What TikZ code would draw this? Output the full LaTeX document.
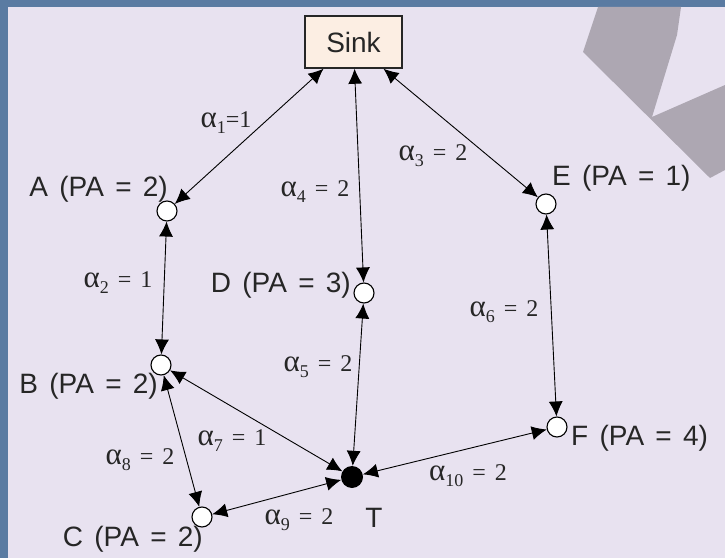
\documentclass[tikz,border=0pt]{standalone}
\usepackage{fontspec}
\setmainfont{Liberation Sans}[WordSpace=1.45]
\newfontfamily\grkfont{Liberation Serif}[WordSpace=1.5]
\usetikzlibrary{arrows.meta}
\definecolor{slidebg}{HTML}{E8E2F0}
\definecolor{slideblue}{HTML}{5A7BA2}
\definecolor{deco}{HTML}{ADA7B2}
\definecolor{sinkfill}{HTML}{FCEEE3}
\definecolor{ink}{HTML}{262626}
% alpha weight labels
\newcommand{\alp}{{\fontsize{31bp}{31bp}\selectfont α}}
\newcommand{\wlab}[2]{{\grkfont\alp\raisebox{-6bp}{\fontsize{18bp}{18bp}\selectfont #1} = #2}}
\tikzset{
  sensor/.style={circle,draw,line width=1.1bp,fill=white,minimum size=20bp,inner sep=0pt},
  target/.style={circle,fill=black,minimum size=22bp,inner sep=0pt},
  sinkbox/.style={draw=ink,line width=1.5bp,fill=sinkfill,minimum width=97bp,minimum height=52bp,
    font=\fontsize{28bp}{32bp}\selectfont,text=ink},
  pa/.style={text=ink,inner sep=0pt,font=\fontsize{28bp}{32bp}\selectfont},
  wt/.style={text=ink,inner sep=0pt,font=\fontsize{24bp}{28bp}\selectfont},
  link/.style={{Latex[length=15bp,width=14bp]}-{Latex[length=15bp,width=14bp]},line width=0.9bp}
}
\begin{document}
\begin{tikzpicture}[x=1bp,y=-1bp]
  % slide background
  \fill[slideblue] (0,0) rectangle (725,558);
  \fill[slidebg] (8,7) rectangle (725,558);
  \fill[deco] (598,7) -- (583,52) -- (710,178) -- (725,170) -- (725,85) -- (652,117)
    -- (677,35) -- (681,7) -- cycle;
  \useasboundingbox (0,0) rectangle (725,558);

  \node[sinkbox] (sink) at (353.5,42) {Sink};
  \node[sensor] (A) at (167,211) {};
  \node[sensor] (B) at (161,365) {};
  \node[sensor] (C) at (202,517) {};
  \node[sensor] (D) at (364,293) {};
  \node[sensor] (E) at (546,204) {};
  \node[sensor] (F) at (557,427) {};
  \node[target] (T) at (352,477) {};

  \node[pa,anchor=east] (labA) at (168,189) {A (PA = 2)};
  \node[pa,anchor=east] (labB) at (158,386) {B (PA = 2)};
  \node[pa,anchor=east] (labC) at (203,539) {C (PA = 2)};
  \node[pa,anchor=east] (labD) at (351,285) {D (PA = 3)};
  \node[pa,anchor=west] (labE) at (552,178) {E (PA = 1)};
  \node[pa,anchor=west] (labF) at (571,438) {F (PA = 4)};
  \node[pa] (labT) at (374,518) {T};

  \draw[link] ([xshift=-30bp]sink.south) -- (A);
  \draw[link] ([xshift=1bp]sink.south) -- (D);
  \draw[link] ([xshift=30bp]sink.south) -- (E);
  \draw[link] (A) -- (B);
  \draw[link] (B) -- (C);
  \draw[link] (B) -- (T);
  \draw[link] (D) -- (T);
  \draw[link] (E) -- (F);
  \draw[link] (F) -- (T);
  \draw[link] (C) -- (T);

  \node[wt] (w1) at (226,123) {{\grkfont\alp\raisebox{-6bp}{\fontsize{18bp}{18bp}\selectfont 1}=1}};
  \node[wt] (w2) at (118,283) {\wlab{2}{1}};
  \node[wt] (w3) at (433,156) {\wlab{3}{2}};
  \node[wt] (w4) at (315,192) {\wlab{4}{2}};
  \node[wt] (w5) at (318,367) {\wlab{5}{2}};
  \node[wt] (w6) at (504,312) {\wlab{6}{2}};
  \node[wt] (w7) at (232,441) {\wlab{7}{1}};
  \node[wt] (w8) at (140,460) {\wlab{8}{2}};
  \node[wt] (w9) at (299,520) {\wlab{9}{2}};
  \node[wt] (w10) at (468,476) {\wlab{10}{2}};
\end{tikzpicture}
\end{document}
